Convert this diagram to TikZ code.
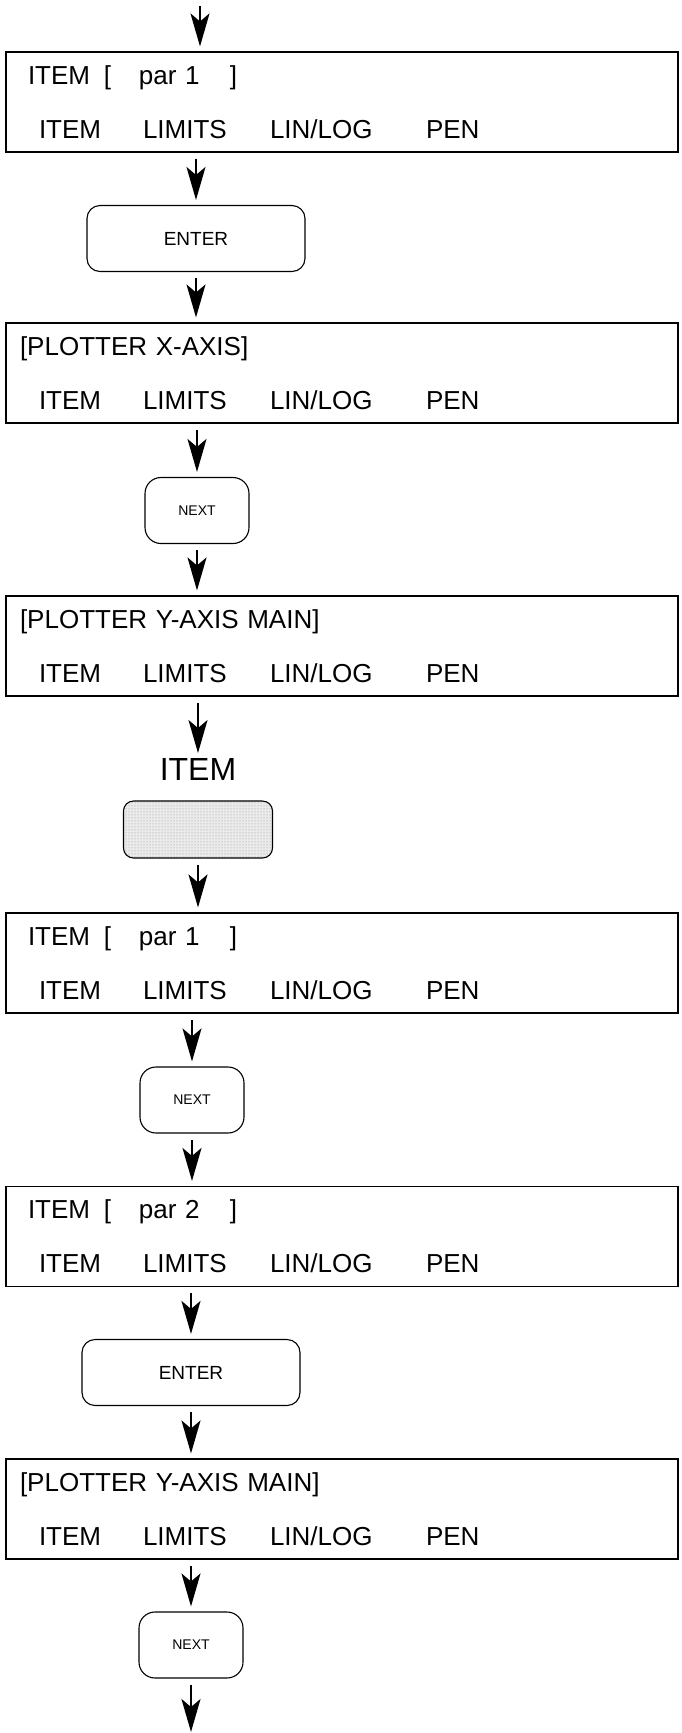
\documentclass[tikz,border=0pt]{standalone}
\usepackage{fontspec}
\setmainfont{Liberation Sans}
\usetikzlibrary{arrows.meta, positioning, patterns}

\newcommand{\softkeys}{\hspace*{33pt}\makebox[104pt][l]{ITEM}\makebox[127pt][l]{LIMITS}\makebox[156pt][l]{LIN/LOG}PEN}
\newcommand{\itemline}[1]{\hspace*{22pt}\makebox[76pt][l]{ITEM}\makebox[35pt][l]{[}\makebox[91pt][l]{#1}]}
\newcommand{\plotline}[1]{\hspace*{14pt}[#1]}

\begin{document}
\begin{tikzpicture}[x=1pt, y=1pt,
            panel/.style={draw, line width=1.1pt, minimum width=672pt, minimum height=100pt, text width=672pt, inner xsep=0pt, align=left, font=\fontsize{26}{54}\selectfont},
            enterkey/.style={draw, line width=1.1pt, rounded corners=13pt, minimum width=218pt, minimum height=66pt, font=\fontsize{19}{22}\selectfont},
            nextkey/.style={draw, line width=1.1pt, rounded corners=16pt, minimum width=104pt, minimum height=66pt, font=\fontsize{14}{16}\selectfont},
            shadedkey/.style={draw, line width=1.1pt, rounded corners=10pt, minimum width=149pt, minimum height=57pt, preaction={fill=black!8}, pattern=dots, pattern color=black!45},
            keylabel/.style={inner sep=0pt, font=\fontsize{32}{36}\selectfont},
            arr/.style={-{Stealth[length=33pt, width=19pt, inset=8pt]}, line width=2pt, shorten <=6pt, shorten >=5pt}
        ]
            \useasboundingbox (0,0) rectangle (682,-1733);
            \coordinate (in) at (200,0);
            \coordinate (out) at (191,-1737);
            \node[panel] (p1) at (342,-102) {\itemline{par 1}\\\softkeys};
            \node[enterkey] (enter1) at (196,-238.5) {ENTER};
            \node[panel] (p2) at (342,-373) {\plotline{PLOTTER X-AXIS}\\\softkeys};
            \node[nextkey] (next1) at (197,-510.5) {NEXT};
            \node[panel] (p3) at (342,-646) {\plotline{PLOTTER Y-AXIS MAIN}\\\softkeys};
            \node[shadedkey] (item) at (198,-829.5) {};
            \node[keylabel, above=20pt of item] (itemlbl) {ITEM};
            \node[panel] (p4) at (342,-963) {\itemline{par 1}\\\softkeys};
            \node[nextkey] (next2) at (192,-1100) {NEXT};
            \node[panel] (p5) at (342,-1236.5) {\itemline{par 2}\\\softkeys};
            \node[enterkey] (enter2) at (191,-1372.5) {ENTER};
            \node[panel] (p6) at (342,-1509) {\plotline{PLOTTER Y-AXIS MAIN}\\\softkeys};
            \node[nextkey] (next3) at (191,-1645) {NEXT};
            \draw[arr] (in) -- (in |- p1.north);
            \draw[arr] (p1.south -| enter1.north) -- (enter1.north);
            \draw[arr] (enter1.south) -- (enter1.south |- p2.north);
            \draw[arr] (p2.south -| next1.north) -- (next1.north);
            \draw[arr] (next1.south) -- (next1.south |- p3.north);
            \draw[arr] (p3.south -| itemlbl.north) -- (itemlbl.north);
            \draw[arr] (item.south) -- (item.south |- p4.north);
            \draw[arr] (p4.south -| next2.north) -- (next2.north);
            \draw[arr] (next2.south) -- (next2.south |- p5.north);
            \draw[arr] (p5.south -| enter2.north) -- (enter2.north);
            \draw[arr] (enter2.south) -- (enter2.south |- p6.north);
            \draw[arr] (p6.south -| next3.north) -- (next3.north);
            \draw[arr] (next3.south) -- (out);
        \end{tikzpicture}
\end{document}
